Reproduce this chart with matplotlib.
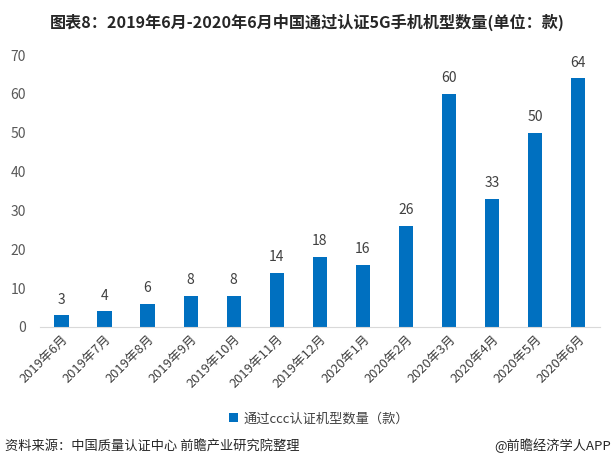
import matplotlib.pyplot as plt

plt.rcParams['font.family'] = ['Noto Sans CJK SC', 'DejaVu Sans']

months = ['2019年6月', '2019年7月', '2019年8月', '2019年9月', '2019年10月',
          '2019年11月', '2019年12月', '2020年1月', '2020年2月', '2020年3月',
          '2020年4月', '2020年5月', '2020年6月']
counts = [3, 4, 6, 8, 8, 14, 18, 16, 26, 60, 33, 50, 64]
yticks = [0, 10, 20, 30, 40, 50, 60, 70]

fig = plt.figure(figsize=(6.14, 4.67), dpi=100)
ax = fig.add_axes([0.065, 0.300, 0.912, 0.582])

x = list(range(len(months)))
bars = ax.bar(x, counts, width=0.33, color='#0070C0', label='通过ccc认证机型数量（款）')
for xi, v in zip(x, counts):
    ax.text(xi, v + 2.2, str(v), ha='center', va='bottom', fontsize=10, color='#404040')

ax.set_xlim(-0.5, len(months) - 0.5)
ax.set_ylim(0, 70)
ax.set_yticks(yticks)
ax.set_xticks(x)
ax.set_xticklabels(months, rotation=45, ha='right', rotation_mode='anchor', fontsize=9.3, color='#404040')
ax.tick_params(axis='y', labelsize=10, labelcolor='#595959', length=0, pad=10)
ax.tick_params(axis='x', length=0, pad=4)
for s in ['top', 'right', 'left']:
    ax.spines[s].set_visible(False)
ax.spines['bottom'].set_color('#D9D9D9')

fig.text(0.5, 0.953, '图表8：2019年6月-2020年6月中国通过认证5G手机机型数量(单位：款)',
         ha='center', va='center', fontsize=11.6, fontweight='bold', color='#262626')
fig.legend(loc='center', bbox_to_anchor=(0.52, 0.103), frameon=False, fontsize=9.5,
           handlelength=0.7, handleheight=0.7, handletextpad=0.4, labelcolor='#404040')
fig.text(0.008, 0.045, '资料来源：中国质量认证中心 前瞻产业研究院整理', ha='left', va='center',
         fontsize=9.5, color='#262626')
fig.text(0.995, 0.045, '@前瞻经济学人APP', ha='right', va='center', fontsize=9.5, color='#262626')

fig.savefig('out.png', dpi=100)
